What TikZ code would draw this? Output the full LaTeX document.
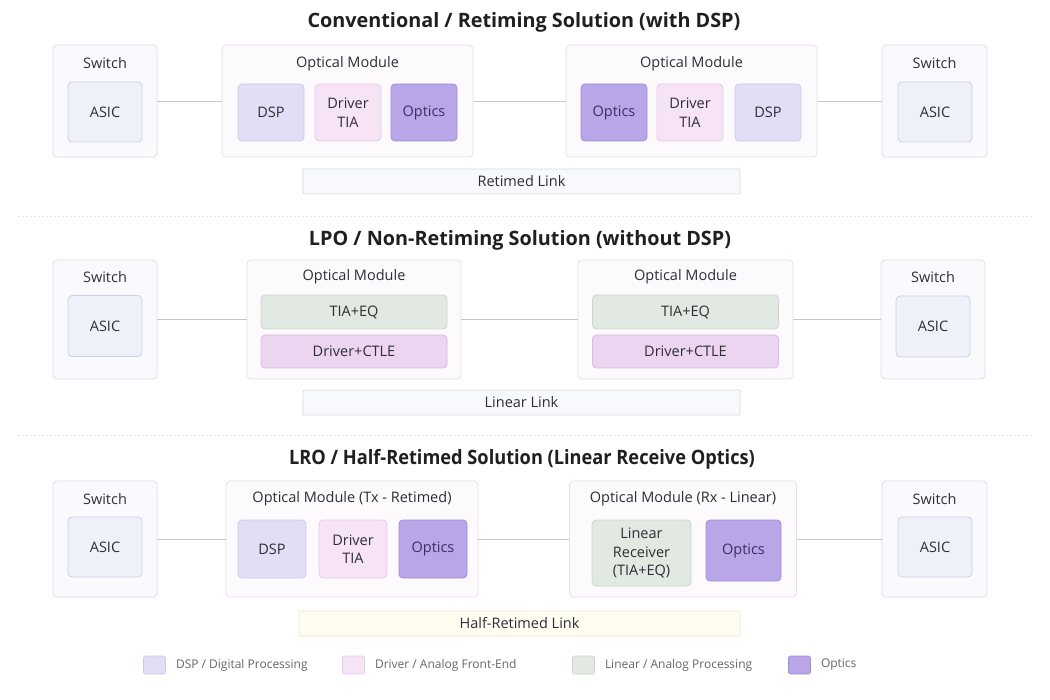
\documentclass[tikz,border=0pt]{standalone}
\usepackage{fontspec}
\setmainfont{Open Sans}
\usetikzlibrary{positioning}
\definecolor{txtgray}{HTML}{2E2E36}
\definecolor{leggray}{HTML}{66666E}
\definecolor{swfill}{HTML}{FAFAFE}
\definecolor{swline}{HTML}{DCDDE8}
\definecolor{asicfill}{HTML}{EEF0FA}
\definecolor{asicline}{HTML}{CDD2E2}
\definecolor{modfill}{HTML}{FDFAFE}
\definecolor{modline}{HTML}{E6DEEA}
\definecolor{dspfill}{HTML}{E3DEF5}
\definecolor{dspline}{HTML}{CFC8E6}
\definecolor{drvfill}{HTML}{F6E3F6}
\definecolor{drvline}{HTML}{E4CBE4}
\definecolor{optfill}{HTML}{B9A6E6}
\definecolor{optline}{HTML}{A28CD6}
\definecolor{opttxt}{HTML}{3A2F66}
\definecolor{linfill}{HTML}{E2E8E2}
\definecolor{linline}{HTML}{CDD6CD}
\definecolor{ctlefill}{HTML}{EBD5F0}
\definecolor{ctleline}{HTML}{D6BCDE}
\definecolor{barfill}{HTML}{F8F9FC}
\definecolor{barline}{HTML}{D8DBE4}
\definecolor{halffill}{HTML}{FFFCF2}
\definecolor{halfline}{HTML}{EEE6D2}
\definecolor{wireclr}{HTML}{C6C6CC}
\definecolor{sepclr}{HTML}{E4E4EA}
\tikzset{
  box/.style={rectangle, rounded corners=4pt, inner sep=0pt, line width=0.8pt,
    font=\fontsize{14.5}{18.5}\selectfont, text=txtgray, align=center},
  swbox/.style={box, fill=swfill, draw=swline},
  asicbox/.style={box, fill=asicfill, draw=asicline, minimum width=74pt, minimum height=60pt},
  modbox/.style={box, fill=modfill, draw=modline},
  dspbox/.style={box, fill=dspfill, draw=dspline},
  drvbox/.style={box, fill=drvfill, draw=drvline},
  optbox/.style={box, fill=optfill, draw=optline, text=opttxt},
  linbox/.style={box, fill=linfill, draw=linline},
  ctlebox/.style={box, fill=ctlefill, draw=ctleline},
  linkbar/.style={box, rounded corners=1pt, fill=barfill, draw=barline, minimum width=437pt, minimum height=25pt},
  boxtitle/.style={font=\fontsize{14.5}{17}\selectfont, text=txtgray, inner sep=0pt},
  sectitle/.style={font=\fontsize{19.8}{23}\selectfont\bfseries, text=black!88, inner sep=0pt},
  wire/.style={draw=wireclr, line width=0.9pt},
  swatch/.style={rectangle, rounded corners=2pt, inner sep=0pt, minimum width=22pt, minimum height=18pt, line width=0.6pt},
  legtext/.style={font=\fontsize{12}{14}\selectfont, text=leggray, inner sep=0pt, anchor=west}
}
\begin{document}
\begin{tikzpicture}[x=1pt,y=-1pt]
  \useasboundingbox[fill=white] (0,0) rectangle (1050,700);
  % ---------- Section 1: conventional / retiming ----------
  \node[sectitle] (title1) at (524,22) {Conventional / Retiming Solution (with DSP)};
  \node[swbox, minimum width=104pt, minimum height=112pt] (swA) at (105,101) {};
  \node[boxtitle] at (105,63) {Switch};
  \node[asicbox] (asicA) at (105,112) {ASIC};
  \node[modbox, minimum width=251pt, minimum height=112pt] (modA) at (347.5,101) {};
  \node[boxtitle] at (347.5,64) {Optical Module};
  \node[dspbox, minimum width=66pt, minimum height=57pt] (dspA) at (271,112.5) {DSP};
  \node[drvbox, minimum width=66pt, minimum height=57pt] (drvA) at (348,112.5) {Driver\\TIA};
  \node[optbox, minimum width=66pt, minimum height=57pt] (optA) at (424,112.5) {Optics};
  \node[modbox, minimum width=251pt, minimum height=112pt] (modB) at (691.5,101) {};
  \node[boxtitle] at (691.5,64) {Optical Module};
  \node[optbox, minimum width=66pt, minimum height=57pt] (optB) at (614,112.5) {Optics};
  \node[drvbox, minimum width=66pt, minimum height=57pt] (drvB) at (690,112.5) {Driver\\TIA};
  \node[dspbox, minimum width=66pt, minimum height=57pt] (dspB) at (768,112.5) {DSP};
  \node[swbox, minimum width=105pt, minimum height=112pt] (swB) at (934.5,101) {};
  \node[boxtitle] at (934.5,63) {Switch};
  \node[asicbox] (asicB) at (935,112) {ASIC};
  \node[linkbar] (linkA) at (521.5,181.5) {Retimed Link};
  \draw[wire] (swA.east) -- (modA.west);
  \draw[wire] (modA.east) -- (modB.west);
  \draw[wire] (modB.east) -- (swB.west);
  % separator
  \draw[sepclr, line width=0.7pt, dash pattern=on 2pt off 2pt] (18,216) -- (1032,216);
  % ---------- Section 2: LPO / non-retiming ----------
  \node[sectitle] (title2) at (520,240) {LPO / Non-Retiming Solution (without DSP)};
  \node[swbox, minimum width=104pt, minimum height=119pt] (swC) at (105,319.5) {};
  \node[boxtitle] at (105,277) {Switch};
  \node[asicbox, minimum height=61pt] (asicC) at (105,326) {ASIC};
  \node[modbox, minimum width=214pt, minimum height=119pt] (modC) at (354,319.5) {};
  \node[boxtitle] at (354,277) {Optical Module};
  \node[linbox, minimum width=186pt, minimum height=34pt] (tiaC) at (354,312) {TIA+EQ};
  \node[ctlebox, minimum width=186pt, minimum height=33pt] (ctleC) at (354,351.5) {Driver+CTLE};
  \node[modbox, minimum width=215pt, minimum height=119pt] (modD) at (685.5,319.5) {};
  \node[boxtitle] at (685.5,277) {Optical Module};
  \node[linbox, minimum width=186pt, minimum height=34pt] (tiaD) at (685.5,312) {TIA+EQ};
  \node[ctlebox, minimum width=186pt, minimum height=33pt] (ctleD) at (685.5,351.5) {Driver+CTLE};
  \node[swbox, minimum width=104pt, minimum height=119pt] (swD) at (933,319.5) {};
  \node[boxtitle] at (933,277) {Switch};
  \node[asicbox, minimum height=61pt] (asicD) at (933,326.5) {ASIC};
  \node[linkbar] (linkC) at (521.5,402.5) {Linear Link};
  \draw[wire] (swC.east) -- (modC.west);
  \draw[wire] (modC.east) -- (modD.west);
  \draw[wire] (modD.east) -- (swD.west);
  % separator
  \draw[sepclr, line width=0.7pt, dash pattern=on 2pt off 2pt] (18,435) -- (1032,435);
  % ---------- Section 3: LRO / half-retimed ----------
  \node[sectitle, xscale=0.92, transform shape] (title3) at (522,459) {LRO / Half-Retimed Solution (Linear Receive Optics)};
  \node[swbox, minimum width=104pt, minimum height=116pt] (swE) at (105,539) {};
  \node[boxtitle] at (105,499) {Switch};
  \node[asicbox] (asicE) at (105,547) {ASIC};
  \node[modbox, minimum width=252pt, minimum height=116pt] (modE) at (352,539) {};
  \node[boxtitle] at (352,499) {Optical Module (Tx - Retimed)};
  \node[dspbox, minimum width=68pt, minimum height=58pt] (dspE) at (272,549) {DSP};
  \node[drvbox, minimum width=68pt, minimum height=58pt] (drvE) at (353,549) {Driver\\TIA};
  \node[optbox, minimum width=68pt, minimum height=58pt] (optE) at (433,549) {Optics};
  \node[modbox, minimum width=227pt, minimum height=116pt] (modF) at (683,539) {};
  \node[boxtitle] at (683,499) {Optical Module (Rx - Linear)};
  \node[linbox, minimum width=99pt, minimum height=66pt] (linF) at (641.5,553) {Linear\\Receiver\\(TIA+EQ)};
  \node[optbox, minimum width=75pt, minimum height=61pt] (optF) at (743.5,550.5) {Optics};
  \node[swbox, minimum width=105pt, minimum height=116pt] (swF) at (934.5,539) {};
  \node[boxtitle] at (934.5,499) {Switch};
  \node[asicbox] (asicF) at (935,547) {ASIC};
  \node[linkbar, fill=halffill, draw=halfline, minimum width=441pt] (linkE) at (519.5,623.5) {Half-Retimed Link};
  \draw[wire] (swE.east) -- (modE.west);
  \draw[wire] (modE.east) -- (modF.west);
  \draw[wire] (modF.east) -- (swF.west);
  % ---------- Legend ----------
  \node[swatch, fill=dspfill, draw=dspline] (keyDsp) at (154.5,665) {};
  \node[legtext, right=10pt of keyDsp] (keyDspTxt) {DSP / Digital Processing};
  \node[swatch, fill=drvfill, draw=drvline] (keyDrv) at (353.5,665) {};
  \node[legtext, right=10pt of keyDrv] (keyDrvTxt) {Driver / Analog Front-End};
  \node[swatch, fill=linfill, draw=linline] (keyLin) at (583.5,665) {};
  \node[legtext, right=10pt of keyLin] (keyLinTxt) {Linear / Analog Processing};
  \node[swatch, fill=optfill, draw=optline] (keyOpt) at (799.5,665) {};
  \node[legtext, right=10pt of keyOpt] (keyOptTxt) {Optics};
\end{tikzpicture}
\end{document}
